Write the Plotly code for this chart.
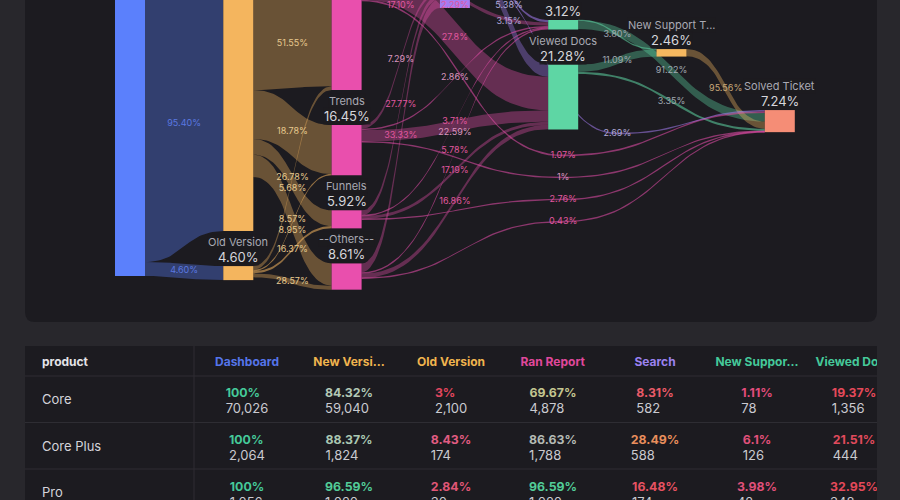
import plotly.graph_objects as go
import numpy as np

# ---------------- DATA ----------------
node_names = ["Dashboard", "New Version", "Old Version", "Ran Report", "Trends",
              "Funnels", "--Others--", "Search", "New Support T...", "Viewed Docs",
              "New Support T...", "Solved Ticket"]
node_values = [100.0, 95.40, 4.60, 50.41, 16.45, 5.92, 8.61, 14.35, 3.12, 21.28, 2.46, 7.24]
node_pct_labels = ["100%", "95.40%", "4.60%", "50.41%", "16.45%", "5.92%", "8.61%",
                   "14.35%", "3.12%", "21.28%", "2.46%", "7.24%"]
node_steps = [0, 1, 1, 2, 2, 2, 2, 3, 4, 4, 5, 6]

link_source = [0, 0,
               1, 1, 1, 1,
               2, 2, 2, 2,
               3, 3, 3, 3,
               4, 4, 4, 4,
               5, 5, 5, 5,
               6, 6, 6, 6,
               7, 7, 7,
               8, 8,
               9, 9,
               10]
link_target = [1, 2,
               3, 4, 5, 6,
               3, 4, 5, 6,
               7, 8, 9, 11,
               7, 8, 9, 11,
               7, 8, 9, 11,
               7, 8, 9, 11,
               8, 9, 11,
               10, 11,
               10, 11,
               11]
link_values = [95.40, 4.60,
               49.18, 16.04, 5.17, 7.30,
               1.23, 0.41, 0.75, 1.31,
               8.62, 1.15, 11.0, 0.54,
               1.20, 0.47, 3.72, 0.16,
               1.64, 0.22, 1.02, 0.16,
               2.87, 0.50, 1.45, 0.04,
               0.77, 4.00, 0.38,
               0.10, 2.85,
               2.36, 0.71,
               2.35]
link_labels = ["95.40%", "4.60%",
               "51.55%", "18.78%", "5.68%", "8.57%",
               "26.78%", "8.95%", "16.37%", "28.57%",
               "17.10%", "2.29%", "27.8%", "1.07%",
               "7.29%", "2.86%", "22.59%", "1%",
               "27.77%", "3.71%", "17.19%", "2.76%",
               "33.33%", "5.78%", "16.86%", "0.43%",
               "5.38%", "3.15%", "2.69%",
               "3.80%", "91.22%",
               "11.09%", "3.35%",
               "95.56%"]

table_products = ["Core", "Core Plus", "Pro"]
table_headers = ["Dashboard", "New Versi...", "Old Version", "Ran Report", "Search",
                 "New Suppor...", "Viewed Docs"]
table_pct = [["100%", "84.32%", "3%", "69.67%", "8.31%", "1.11%", "19.37%"],
             ["100%", "88.37%", "8.43%", "86.63%", "28.49%", "6.1%", "21.51%"],
             ["100%", "96.59%", "2.84%", "96.59%", "16.48%", "3.98%", "32.95%"]]
table_counts = [["70,026", "59,040", "2,100", "4,878", "582", "78", "1,356"],
                ["2,064", "1,824", "174", "1,788", "588", "126", "444"],
                ["1,056", "1,020", "30", "1,020", "174", "42", "348"]]

# ---------------- STYLE / LAYOUT ----------------
W, H = 900, 500
FONT = "Inter"
OUTER_BG = "#28272c"
CARD_BG = "#1c1b20"
SEP = "#2e2d33"

node_colors = ["#5b80fc", "#f4b55e", "#f4b55e", "#e94fad", "#e94fad", "#e94fad", "#e94fad",
               "#a47cf0", "#5ed6a4", "#5ed6a4", "#f5b860", "#f58d76"]
node_label_colors = ["#5a78e0", "#e6c98e", "#e6c98e", "#e0579f", "#d996bf", "#e0579f", "#e0579f",
                     "#b0a8d8", "#a0a8b0", "#a0a8b0", "#c8a878", "#c0a0a0"]

PX_PER = 3.05          # pixels per percent
Y0_PX = -29            # pixel row of the 0% line (top of first step)
STEP_X0 = 115
STEP_DX = 108.3
NODE_W = 30
GAP = 11.5             # gap between nodes of a step (percent units)
step_top = [0.0, -10.15, -11.4, -2.22, 16.07, 25.6, 45.6]
MIN_TH = 0.45
LINK_ALPHA = 0.36
THIN_ALPHA = 0.55
ROUTE_OFFSET_PX = 4    # detour of long links below the blocking nodes
ROUTE_STEP_PX = 22
LABEL_MIN_SEP_PX = 11


def v_of_px(py):
    return (py - Y0_PX) / PX_PER


def rgba(hexc, a):
    hexc = hexc.lstrip("#")
    r, g, b = int(hexc[0:2], 16), int(hexc[2:4], 16), int(hexc[4:6], 16)
    return f"rgba({r},{g},{b},{a})"


def bez(x0, y0, x1, y1, t):
    xm = (x0 + x1) / 2
    bx = (1 - t) ** 3 * x0 + 3 * (1 - t) ** 2 * t * xm + 3 * (1 - t) * t ** 2 * xm + t ** 3 * x1
    by = (1 - t) ** 3 * y0 + 3 * (1 - t) ** 2 * t * y0 + 3 * (1 - t) * t ** 2 * y1 + t ** 3 * y1
    return bx, by


# ---- node layout (computed from values) ----
n_nodes = len(node_names)
node_top = [0.0] * n_nodes
cursor = {s: step_top[s] for s in set(node_steps)}
for i in range(n_nodes):
    s = node_steps[i]
    node_top[i] = cursor[s]
    cursor[s] += node_values[i] + GAP
node_bot = [node_top[i] + node_values[i] for i in range(n_nodes)]
node_x0 = [STEP_X0 + s * STEP_DX for s in node_steps]
node_center = [node_top[i] + node_values[i] / 2 for i in range(n_nodes)]

# ---- link stacking ----
n_links = len(link_values)
src_off = [0.0] * n_links
tgt_off = [0.0] * n_links
for i in range(n_nodes):
    outs = sorted([k for k in range(n_links) if link_source[k] == i],
                  key=lambda k: node_center[link_target[k]])
    c = node_top[i]
    for k in outs:
        src_off[k] = c
        c += link_values[k]
    ins = sorted([k for k in range(n_links) if link_target[k] == i],
                 key=lambda k: node_center[link_source[k]])
    c = node_top[i]
    for k in ins:
        tgt_off[k] = c
        c += link_values[k]

# long links (3+ steps) detour below the intermediate nodes
routed = [k for k in range(n_links)
          if node_steps[link_target[k]] - node_steps[link_source[k]] >= 3]
routed.sort(key=lambda k: node_center[link_source[k]])
waypoint = {}
for rank, k in enumerate(routed):
    s, g = link_source[k], link_target[k]
    inter = [i for i in range(n_nodes) if node_steps[s] < node_steps[i] < node_steps[g]]
    base = max(node_bot[i] for i in inter)
    waypoint[k] = base + (ROUTE_OFFSET_PX + rank * ROUTE_STEP_PX) / PX_PER

fig = go.Figure()

t = np.linspace(0, 1, 40)
order = sorted(range(n_links), key=lambda k: -link_values[k])
lab_x, lab_y, lab_t, lab_c = [], [], [], []
v_vis = v_of_px(0)
for k in order:
    s, g = link_source[k], link_target[k]
    x0 = node_x0[s] + NODE_W
    x1 = node_x0[g]
    val = link_values[k]
    th = max(val, MIN_TH)
    c0 = src_off[k] + val / 2
    c1 = tgt_off[k] + val / 2
    xm = (x0 + x1) / 2
    if k in waypoint:
        cw = waypoint[k]
        ax, ay = bez(x0, c0, xm, cw, t)
        bx2, by2 = bez(xm, cw, x1, c1, t)
        bx = np.concatenate([ax, bx2[1:]])
        bc = np.concatenate([ay, by2[1:]])
        ly = cw
    else:
        bx, bc = bez(x0, c0, x1, c1, t)
        mt = (c0 + c1) / 2 - th / 2
        mb = (c0 + c1) / 2 + th / 2
        vt = max(mt, v_vis)
        ly = (vt + mb) / 2 if mb > v_vis else v_vis + 2
    top = bc - th / 2
    bot = bc + th / 2
    xs = np.concatenate([bx, bx[::-1], bx[:1]])
    ys = np.concatenate([top, bot[::-1], top[:1]])
    alpha = LINK_ALPHA if val >= 1.0 else THIN_ALPHA
    fig.add_trace(go.Scatter(x=xs, y=ys, mode="lines", fill="toself",
                             fillcolor=rgba(node_colors[s], alpha),
                             line=dict(width=0), hoverinfo="skip", showlegend=False))
    lab_x.append(xm)
    lab_y.append(ly)
    lab_t.append(link_labels[k])
    lab_c.append(node_label_colors[s])

# separate labels that share a column position
min_sep = LABEL_MIN_SEP_PX / PX_PER
idx = sorted(range(len(lab_x)), key=lambda i: (round(lab_x[i] / 15), lab_y[i]))
for a, b in zip(idx[:-1], idx[1:]):
    if round(lab_x[a] / 15) == round(lab_x[b] / 15) and lab_y[b] - lab_y[a] < min_sep:
        lab_y[b] = lab_y[a] + min_sep

# nodes
for i in range(n_nodes):
    x0 = node_x0[i]
    x1 = x0 + NODE_W
    y0 = node_top[i]
    y1 = node_bot[i]
    fig.add_trace(go.Scatter(x=[x0, x1, x1, x0, x0], y=[y0, y0, y1, y1, y0], mode="lines",
                             fill="toself", fillcolor=node_colors[i], line=dict(width=0),
                             hoverinfo="skip", showlegend=False))

fig.add_trace(go.Scatter(x=lab_x, y=lab_y, mode="text", text=lab_t,
                         textfont=dict(size=9, color=lab_c, family=FONT),
                         hoverinfo="skip", showlegend=False))

annotations = []
for i in range(n_nodes):
    xc = node_x0[i] + NODE_W / 2
    annotations.append(dict(x=xc, y=node_top[i] - 24 / PX_PER, xref="x", yref="y",
                            text=node_names[i], showarrow=False,
                            font=dict(size=11, color="#a9a9b3", family=FONT),
                            bgcolor="rgba(28,27,32,0.85)", borderpad=0))
    annotations.append(dict(x=xc, y=node_top[i] - 9 / PX_PER, xref="x", yref="y",
                            text=node_pct_labels[i], showarrow=False,
                            font=dict(size=13, color="#d6d6dc", family=FONT),
                            bgcolor="rgba(28,27,32,0.85)", borderpad=0))

# ---------------- TABLE ----------------
pct_colors = [["#45c99a", "#b2c8b6", "#e0465e", "#c4c690", "#e85a68", "#e04c7c", "#e4495a"],
              ["#45c99a", "#aac8b2", "#e05c82", "#b4bab4", "#e88e5c", "#e0507a", "#e04a5c"],
              ["#45c99a", "#52cc98", "#e05676", "#52cc98", "#e65262", "#e0507a", "#e4495a"]]
header_colors = ["#e4e4e8", "#5575ea", "#f0b44e", "#f0b44e", "#e0489c", "#9b82f0", "#45c99a", "#45c99a"]

NB = "\u00a0"
header_vals = [""] + [f"<b>{h.replace(' ', NB)}</b>" for h in table_headers]
cell_vals = [[""] * len(table_products)]
for j in range(len(table_headers)):
    col = []
    for r in range(len(table_products)):
        col.append(f"<b><span style='color:{pct_colors[r][j]}'>{table_pct[r][j]}</span></b>"
                   f"<br><span style='font-size:13px'>{table_counts[r][j]}</span>")
    cell_vals.append(col)

TABLE_TOP = 346
HEADER_H = 30
ROW_H = 46.5
LEFT_COL_W = 171
fig.add_trace(go.Table(
    domain=dict(x=[25 / W, 1.0], y=[0, (H - TABLE_TOP) / H]),
    columnwidth=[LEFT_COL_W, 102, 102, 102, 102, 102, 102, 92],
    header=dict(values=header_vals, fill_color=CARD_BG, line_color=CARD_BG,
                font=dict(color=header_colors, size=12, family=FONT),
                align=["left"] + ["center"] * 7, height=HEADER_H),
    cells=dict(values=cell_vals, fill_color=CARD_BG, line_color=CARD_BG,
               font=dict(color="#cacad0", size=12.3, family=FONT),
               align=["left"] + ["center"] * 7, height=ROW_H),
))

annotations.append(dict(x=40 / W, y=1 - (TABLE_TOP + HEADER_H / 2) / H, xref="paper", yref="paper",
                        text="<b>product</b>", showarrow=False, xanchor="left", yanchor="middle",
                        font=dict(size=12, color="#e4e4e8", family=FONT)))
for r, name in enumerate(table_products):
    yy = TABLE_TOP + HEADER_H + (r + 0.5) * ROW_H
    annotations.append(dict(x=40 / W, y=1 - yy / H, xref="paper", yref="paper",
                            text=name, showarrow=False, xanchor="left", yanchor="middle",
                            font=dict(size=13, color="#d4d4da", family=FONT)))


def rr_path(x0, y0, x1, y1, r):
    fx = lambda x: x / W
    fy = lambda y: 1 - y / H
    return (f"M{fx(x0 + r)},{fy(y0)} L{fx(x1 - r)},{fy(y0)} Q{fx(x1)},{fy(y0)} {fx(x1)},{fy(y0 + r)} "
            f"L{fx(x1)},{fy(y1 - r)} Q{fx(x1)},{fy(y1)} {fx(x1 - r)},{fy(y1)} "
            f"L{fx(x0 + r)},{fy(y1)} Q{fx(x0)},{fy(y1)} {fx(x0)},{fy(y1 - r)} "
            f"L{fx(x0)},{fy(y0 + r)} Q{fx(x0)},{fy(y0)} {fx(x0 + r)},{fy(y0)} Z")


shapes = [
    dict(type="path", xref="paper", yref="paper", path=rr_path(25, -30, 877, 322, 10),
         fillcolor=CARD_BG, line=dict(width=0), layer="below"),
    dict(type="path", xref="paper", yref="paper", path=rr_path(25, TABLE_TOP, 877, H + 30, 10),
         fillcolor=CARD_BG, line=dict(width=0), layer="below"),
]
for r in range(len(table_products)):
    yy = TABLE_TOP + HEADER_H + r * ROW_H
    shapes.append(dict(type="line", xref="paper", yref="paper", x0=25 / W, x1=877 / W,
                       y0=1 - yy / H, y1=1 - yy / H, line=dict(color=SEP, width=1), layer="above"))
shapes.append(dict(type="line", xref="paper", yref="paper", x0=(25 + 169) / W, x1=(25 + 169) / W,
                   y0=1 - TABLE_TOP / H, y1=0, line=dict(color=SEP, width=1), layer="above"))
shapes.append(dict(type="rect", xref="paper", yref="paper", x0=877 / W, x1=1.0,
                   y0=0, y1=1 - TABLE_TOP / H + 0.01, fillcolor=OUTER_BG, line=dict(width=0), layer="above"))

fig.update_layout(
    width=W, height=H, margin=dict(l=0, r=0, t=0, b=0),
    paper_bgcolor=OUTER_BG, plot_bgcolor="rgba(0,0,0,0)",
    xaxis=dict(range=[0, W], visible=False, fixedrange=True, domain=[0, 1]),
    yaxis=dict(range=[v_of_px(H), v_of_px(0)], visible=False, fixedrange=True, domain=[0, 1]),
    shapes=shapes, annotations=annotations, showlegend=False,
    font=dict(family=FONT),
)

fig.write_html("out.html")
